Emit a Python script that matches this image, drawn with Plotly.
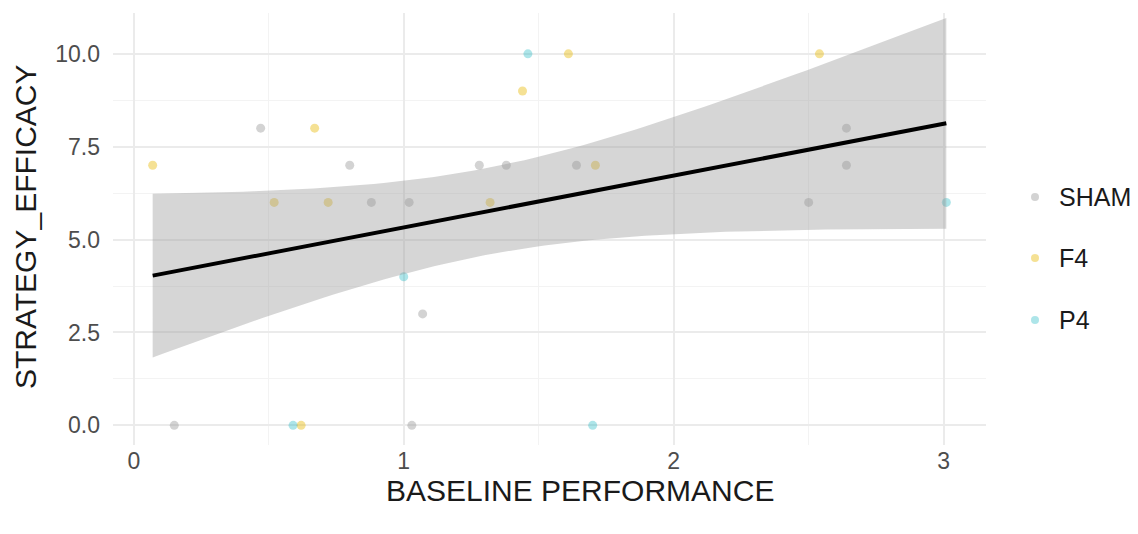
import numpy as np
import plotly.graph_objects as go

# Baseline performance vs. strategy efficacy, by stimulation group
sham_x = [0.15, 0.47, 0.80, 0.88, 1.02, 1.03, 1.07, 1.28, 1.38, 1.64, 2.50, 2.64, 2.64]
sham_y = [0, 8, 7, 6, 6, 0, 3, 7, 7, 7, 6, 8, 7]
f4_x = [0.07, 0.52, 0.62, 0.67, 0.72, 1.32, 1.44, 1.61, 1.71, 2.54]
f4_y = [7, 6, 0, 8, 6, 6, 9, 10, 7, 10]
p4_x = [0.59, 1.00, 1.46, 1.70, 3.01]
p4_y = [0, 4, 10, 0, 6]

x_ticks = [0, 1, 2, 3]
y_ticks = [0, 2.5, 5, 7.5, 10]
y_tick_text = ["0.0", "2.5", "5.0", "7.5", "10.0"]

groups = ["SHAM", "F4", "P4"]
colors = {"SHAM": "rgba(150,150,150,0.42)",
          "F4": "rgba(231,184,0,0.42)",
          "P4": "rgba(0,175,187,0.32)"}
xs = {"SHAM": sham_x, "F4": f4_x, "P4": p4_x}
ys = {"SHAM": sham_y, "F4": f4_y, "P4": p4_y}

# pooled linear fit with 95% confidence band (like geom_smooth(method = "lm"))
X = np.array(sham_x + f4_x + p4_x, dtype=float)
Y = np.array(sham_y + f4_y + p4_y, dtype=float)
n = len(X)
b1, b0 = np.polyfit(X, Y, 1)
resid = Y - (b0 + b1 * X)
s = np.sqrt(np.sum(resid ** 2) / (n - 2))
xg = np.linspace(X.min(), X.max(), 80)
yg = b0 + b1 * xg
sxx = np.sum((X - X.mean()) ** 2)
se = s * np.sqrt(1.0 / n + (xg - X.mean()) ** 2 / sxx)
try:
    from scipy import stats
    tcrit = stats.t.ppf(0.975, n - 2)
except Exception:
    tcrit = 2.056
upper = yg + tcrit * se
lower = yg - tcrit * se

fig = go.Figure()
for g in groups:
    fig.add_trace(go.Scatter(
        x=xs[g], y=ys[g], mode="markers", name=g, showlegend=False,
        marker=dict(size=9, color=colors[g], line=dict(width=0)),
    ))

fig.add_trace(go.Scatter(
    x=np.concatenate([xg, xg[::-1]]), y=np.concatenate([upper, lower[::-1]]),
    fill="toself", fillcolor="rgba(153,153,153,0.4)", line=dict(width=0),
    mode="lines", hoverinfo="skip", showlegend=False,
))
fig.add_trace(go.Scatter(
    x=xg, y=yg, mode="lines", line=dict(color="black", width=4),
    showlegend=False,
))

# plot-area geometry in pixels (used to place the key beside the panel)
W, H = 1138, 534
ML, MR, MT, MB = 113, 152, 13, 89
pw, ph = W - ML - MR, H - MT - MB


def px_to_paper(px, py):
    return (px - ML) / pw, (H - MB - py) / ph


shapes = []
annotations = [
    dict(text="BASELINE PERFORMANCE", xref="paper", yref="paper",
         x=px_to_paper(580, 0)[0], y=px_to_paper(0, 491)[1],
         xanchor="center", yanchor="middle",
         showarrow=False, font=dict(size=30, color="#1a1a1a")),
    dict(text="STRATEGY_EFFICACY", xref="paper", yref="paper",
         x=px_to_paper(25, 0)[0], y=px_to_paper(0, 227)[1],
         xanchor="center", yanchor="middle",
         textangle=-90, showarrow=False, font=dict(size=30, color="#1a1a1a")),
]

# group key: dot plus label
key_rows = [197, 258, 320]
for g, row in zip(groups, key_rows):
    kx, ky = px_to_paper(1035, row)
    shapes.append(dict(
        type="circle", xref="paper", yref="paper",
        xsizemode="pixel", ysizemode="pixel", xanchor=kx, yanchor=ky,
        x0=-4, x1=4, y0=-4, y1=4,
        fillcolor=colors[g], line=dict(width=0),
    ))
    tx, ty = px_to_paper(1057, row)
    annotations.append(dict(
        text=g, xref="paper", yref="paper", x=tx, y=ty,
        xanchor="left", yanchor="middle", showarrow=False,
        font=dict(size=25, color="#1a1a1a"),
    ))

font_family = "Liberation Sans, Arial, sans-serif"
fig.update_layout(
    width=W, height=H,
    margin=dict(l=ML, r=MR, t=MT, b=MB),
    paper_bgcolor="white", plot_bgcolor="white",
    font=dict(family=font_family),
    showlegend=False,
    shapes=shapes,
    annotations=annotations,
)
fig.update_xaxes(
    range=[-0.077, 3.157], tickvals=x_ticks, ticktext=[str(v) for v in x_ticks],
    showgrid=True, gridcolor="#ebebeb", gridwidth=1.6,
    minor=dict(tickvals=[0.5, 1.5, 2.5], showgrid=True, gridcolor="#f3f3f3", gridwidth=1.2),
    zeroline=False, showline=False, ticks="",
    tickfont=dict(size=23, color="#4d4d4d"),
)
fig.update_yaxes(
    range=[-0.53, 11.1], tickvals=y_ticks, ticktext=y_tick_text,
    showgrid=True, gridcolor="#ebebeb", gridwidth=2,
    minor=dict(tickvals=[1.25, 3.75, 6.25, 8.75], showgrid=True, gridcolor="#f3f3f3", gridwidth=1.4),
    zeroline=False, showline=False, ticks="", ticklabelstandoff=12,
    tickfont=dict(size=23, color="#4d4d4d"),
)

fig.write_html("out.html")
